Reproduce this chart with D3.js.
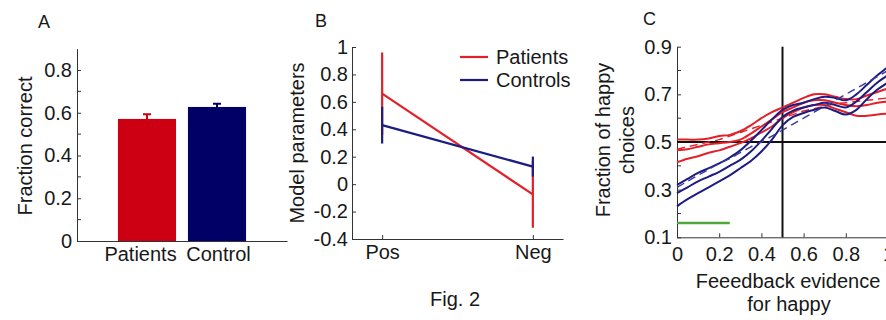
<!DOCTYPE html>
<html>
<head>
<meta charset="utf-8">
<script src="https://cdn.jsdelivr.net/npm/d3@7"></script>
<style>
  body { margin: 0; background: #fff; }
  svg text { font-family: "Liberation Sans", Arial, sans-serif; fill: #181818; }
  .axis path, .axis line { stroke: #333; }
</style>
</head>
<body>
<div id="chart"></div>
<script>
// Panel A data
const groupsA = ["Patients", "Control"];
const fractionCorrect = [0.571, 0.627];
const fractionErr = [0.022, 0.015];
const aTicks = [0, 0.2, 0.4, 0.6, 0.8];
const aMinor = [0.1, 0.3, 0.5, 0.7];

// Panel B data
const condB = [1, 2];
const condLabels = ["Pos", "Neg"];
const patientsB = [0.66, -0.075];
const patientsErr = [0.30, 0.243];
const controlsB = [0.43, 0.128];
const controlsErr = [0.134, 0.073];
const bTicks = [-0.4, -0.2, 0, 0.2, 0.4, 0.6, 0.8, 1];

// Panel C data
const evidence = [0, 0.05, 0.1, 0.15, 0.2, 0.25, 0.3, 0.35, 0.4, 0.45, 0.5, 0.55, 0.6, 0.65, 0.7, 0.75, 0.8, 0.85, 0.9, 0.95, 1.0];
const blueUpper = [0.32, 0.345, 0.37, 0.39, 0.41, 0.435, 0.465, 0.505, 0.55, 0.595, 0.635, 0.655, 0.665, 0.68, 0.69, 0.685, 0.675, 0.7, 0.74, 0.78, 0.815];
const blueMid = [0.285, 0.31, 0.335, 0.355, 0.375, 0.4, 0.425, 0.46, 0.505, 0.555, 0.605, 0.632, 0.645, 0.655, 0.665, 0.655, 0.645, 0.67, 0.71, 0.75, 0.78];
const blueLower = [0.23, 0.26, 0.285, 0.31, 0.335, 0.36, 0.39, 0.42, 0.46, 0.51, 0.57, 0.605, 0.622, 0.635, 0.645, 0.63, 0.615, 0.635, 0.68, 0.72, 0.75];
const blueFit = [0.31, 0.335, 0.36, 0.385, 0.41, 0.43, 0.455, 0.48, 0.5, 0.525, 0.55, 0.575, 0.6, 0.625, 0.65, 0.675, 0.7, 0.725, 0.75, 0.775, 0.8];
const redUpper = [0.51, 0.51, 0.51, 0.515, 0.525, 0.53, 0.545, 0.57, 0.6, 0.625, 0.645, 0.665, 0.685, 0.7, 0.7, 0.69, 0.68, 0.68, 0.695, 0.71, 0.725];
const redMid = [0.465, 0.47, 0.48, 0.49, 0.495, 0.5, 0.51, 0.535, 0.565, 0.595, 0.625, 0.645, 0.665, 0.675, 0.675, 0.665, 0.655, 0.65, 0.655, 0.665, 0.67];
const redLower = [0.415, 0.43, 0.44, 0.455, 0.465, 0.48, 0.495, 0.515, 0.54, 0.565, 0.6, 0.625, 0.645, 0.655, 0.655, 0.64, 0.625, 0.61, 0.61, 0.615, 0.62];
const redFit = [0.47, 0.48, 0.49, 0.5, 0.51, 0.525, 0.54, 0.555, 0.57, 0.585, 0.6, 0.615, 0.63, 0.64, 0.65, 0.66, 0.665, 0.67, 0.675, 0.68, 0.685];
const cYTicks = [0.1, 0.3, 0.5, 0.7, 0.9];
const cYMinor = [0.2, 0.4, 0.6, 0.8];
const cXTicks = [0, 0.2, 0.4, 0.6, 0.8, 1];
const greenBar = [0, 0.25];
const greenLevel = 0.16;

const RED_BAR = "#cc0012", BLUE_BAR = "#000066";
const RED = "#e3202a", BLUE = "#1c1c82";
const FS = 20;

const svg = d3.select("#chart").append("svg").attr("width", 886).attr("height", 320);

function label(x, y, txt, opts = {}) {
  const t = svg.append("text").attr("x", x).attr("y", y).text(txt)
    .style("font-size", (opts.size || FS) + "px")
    .attr("text-anchor", opts.anchor || "start");
  if (opts.rotate) t.attr("transform", `rotate(-90, ${x}, ${y})`);
  return t;
}

function minorTicks(g, scale, values, x0, len) {
  g.selectAll(null).data(values).join("line")
    .attr("x1", x0).attr("x2", x0 + len)
    .attr("y1", scale).attr("y2", scale)
    .attr("stroke", "#333");
}

const styleTicks = g => g.selectAll("text").style("font-size", FS + "px").style("font-family", null);

// ---------- Panel A ----------
const gA = svg.append("g");
const xA = d3.scalePoint().domain(groupsA).range([77, 287]).padding(1);
const yA = d3.scaleLinear().domain([0, 0.9]).range([241, 48.6]);
const barW = xA.step() * 0.83;

gA.selectAll(".bar").data(groupsA).join("rect")
  .attr("x", d => xA(d) - barW / 2)
  .attr("width", barW)
  .attr("y", (d, i) => yA(fractionCorrect[i]))
  .attr("height", (d, i) => yA(0) - yA(fractionCorrect[i]))
  .attr("fill", (d, i) => i === 0 ? RED_BAR : BLUE_BAR);

// error bars (upper half only)
gA.selectAll(".err").data(groupsA).join("path")
  .attr("d", (d, i) => {
    const x = xA(d), top = yA(fractionCorrect[i] + fractionErr[i]), mid = yA(fractionCorrect[i]);
    return `M${x},${mid}V${top}M${x - 4},${top}H${x + 4}`;
  })
  .attr("stroke", (d, i) => i === 0 ? RED_BAR : BLUE_BAR)
  .attr("stroke-width", 2).attr("fill", "none");

gA.append("g").attr("class", "axis").attr("transform", "translate(77,0)")
  .call(d3.axisLeft(yA).tickValues(aTicks).tickSize(-4).tickSizeOuter(0).tickPadding(5).tickFormat(d => String(d)))
  .call(styleTicks);
minorTicks(gA, yA, aMinor, 77, 4);

gA.append("g").attr("class", "axis").attr("transform", "translate(0,241)")
  .call(d3.axisBottom(xA).tickSize(0).tickSizeOuter(0).tickPadding(6))
  .call(styleTicks)
  .call(g => g.selectAll("text").attr("dx", (d, i) => i === 0 ? -7 : 1));

label(32, 146, "Fraction correct", { rotate: true, anchor: "middle" });
label(38, 28, "A", { size: 18 });

// ---------- Panel B ----------
const gB = svg.append("g");
const xB = d3.scaleLinear().domain([0.8, 2.2]).range([352, 563]);
const yB = d3.scaleLinear().domain([-0.4, 1]).range([239, 47]);

gB.append("g").attr("class", "axis").attr("transform", "translate(352,0)")
  .call(d3.axisLeft(yB).tickValues(bTicks).tickSize(-4).tickSizeOuter(0).tickPadding(4).tickFormat(d => String(d)))
  .call(styleTicks);
gB.append("g").attr("class", "axis").attr("transform", "translate(0,239)")
  .call(d3.axisBottom(xB).tickValues(condB).tickSize(-4).tickSizeOuter(0).tickPadding(6).tickFormat((d, i) => condLabels[i]))
  .call(styleTicks);

const seriesB = [
  { means: patientsB, errs: patientsErr, color: RED },
  { means: controlsB, errs: controlsErr, color: BLUE }
];
const lineB = d3.line().x((d, i) => xB(condB[i])).y(d => yB(d));
seriesB.forEach(s => {
  gB.append("path").attr("d", lineB(s.means)).attr("stroke", s.color)
    .attr("stroke-width", 2.2).attr("fill", "none");
  gB.selectAll(null).data(s.means).join("line")
    .attr("x1", (d, i) => xB(condB[i])).attr("x2", (d, i) => xB(condB[i]))
    .attr("y1", (d, i) => yB(d - s.errs[i])).attr("y2", (d, i) => yB(d + s.errs[i]))
    .attr("stroke", s.color).attr("stroke-width", 2.2);
});

// legend
[["Patients", RED, 57], ["Controls", BLUE, 80]].forEach(([name, c, y]) => {
  gB.append("line").attr("x1", 460).attr("x2", 488).attr("y1", y).attr("y2", y)
    .attr("stroke", c).attr("stroke-width", 2.2);
  label(496, y + 7, name);
});

label(304, 143, "Model parameters", { rotate: true, anchor: "middle" });
label(315, 27, "B", { size: 18 });
label(455, 306, "Fig. 2", { anchor: "middle" });

// ---------- Panel C ----------
const gC = svg.append("g");
const xC = d3.scaleLinear().domain([0, 1]).range([677, 888]);
const yC = d3.scaleLinear().domain([0.1, 0.9]).range([237.3, 46.7]);

gC.append("g").attr("class", "axis").attr("transform", "translate(677,0)")
  .call(d3.axisLeft(yC).tickValues(cYTicks).tickSize(-4).tickSizeOuter(0).tickPadding(5).tickFormat(d => String(d)))
  .call(styleTicks);
minorTicks(gC, yC, cYMinor, 677, 4);
gC.append("g").attr("class", "axis").attr("transform", "translate(0,237.3)")
  .call(d3.axisBottom(xC).tickValues(cXTicks).tickSize(-4).tickSizeOuter(0).tickPadding(10).tickFormat(d => String(d)))
  .call(styleTicks);

// reference lines
gC.append("line").attr("x1", xC(0)).attr("x2", xC(1)).attr("y1", yC(0.5)).attr("y2", yC(0.5))
  .attr("stroke", "#111").attr("stroke-width", 2);
gC.append("line").attr("x1", xC(0.5)).attr("x2", xC(0.5)).attr("y1", yC(0.1)).attr("y2", yC(0.9))
  .attr("stroke", "#111").attr("stroke-width", 2);

const lineC = d3.line().x((d, i) => xC(evidence[i])).y(d => yC(d)).curve(d3.curveCatmullRom);
[
  [redUpper, RED, null], [redMid, RED, null], [redLower, RED, null], [redFit, RED, "8,5"],
  [blueUpper, BLUE, null], [blueMid, BLUE, null], [blueLower, BLUE, null], [blueFit, "#3a3a9a", "8,5"]
].forEach(([vals, c, dash]) => {
  gC.append("path").attr("d", lineC(vals)).attr("fill", "none")
    .attr("stroke", c).attr("stroke-width", dash ? 1.4 : 2)
    .attr("stroke-dasharray", dash);
});

gC.append("line").attr("x1", xC(greenBar[0])).attr("x2", xC(greenBar[1]))
  .attr("y1", yC(greenLevel)).attr("y2", yC(greenLevel))
  .attr("stroke", "#4fa83a").attr("stroke-width", 2.5);

label(610, 140, "Fraction of happy", { rotate: true, anchor: "middle" });
label(634, 140, "choices", { rotate: true, anchor: "middle" });
label(788, 288, "Feeedback evidence", { anchor: "middle" });
label(789, 311, "for happy", { anchor: "middle" });
label(643, 25, "C", { size: 18 });
</script>
</body>
</html>
